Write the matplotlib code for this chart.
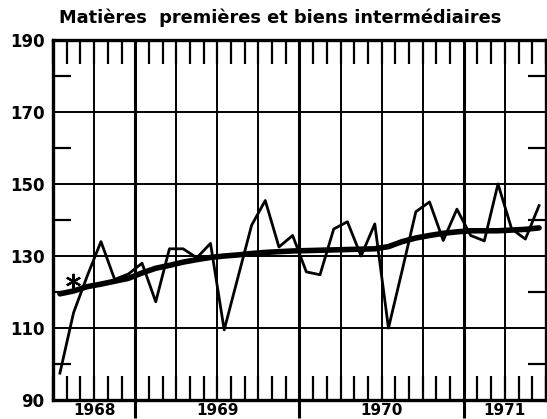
import matplotlib.pyplot as plt
import numpy as np

# monthly index, July 1968 .. June 1971
start_year = 1968.5
n_months = 36
series = [97.5, 114.3, 124.5, 134.0, 123.5, 125.0,
          128.0, 117.3, 132.0, 132.0, 129.5, 133.5,
          109.5, 124.0, 138.5, 145.4, 132.5, 135.7,
          125.6, 124.8, 137.5, 139.5, 130.0, 138.9,
          110.0, 126.0, 142.3, 145.0, 134.3, 143.0,
          135.7, 134.2, 150.0, 137.5, 134.7, 144.0]
trend = [119.5, 120.3, 121.5, 122.2, 123.0, 123.8,
         125.3, 126.6, 127.4, 128.3, 129.0, 129.6,
         130.0, 130.3, 130.7, 131.0, 131.2, 131.4,
         131.5, 131.6, 131.7, 131.8, 131.9, 132.0,
         132.6, 134.0, 135.0, 135.7, 136.3, 136.7,
         137.0, 137.0, 137.0, 137.2, 137.4, 137.8]
star_point = (1968.54 + 1 / 12, 123.2)
years = [1968, 1969, 1970, 1971]
year_labels = ['1968', '1969', '1970', '1971']
title = 'Matières  premières et biens intermédiaires'

x = start_year + (np.arange(n_months) + 0.5) / 12
xmin, xmax = start_year, start_year + n_months / 12

fig = plt.figure(figsize=(5.47, 4.19), dpi=100)
ax = fig.add_axes([0.097, 0.045, 0.901, 0.860])
ax.set_xlim(xmin, xmax)
ax.set_ylim(90, 190)

# grid: quarters thin, years thicker
for q in np.arange(xmin + 0.25, xmax, 0.25):
    lw = 2.2 if abs(q - round(q)) < 1e-6 else 1.4
    ax.axvline(q, color='black', lw=lw, zorder=1)
for v in range(110, 190, 20):
    ax.axhline(v, color='black', lw=1.4, zorder=1)

ax.plot(x, series, color='black', lw=2.0, zorder=3)
ax.plot(x, trend, color='black', lw=4.0, solid_capstyle='round', zorder=4)
ax.plot(*star_point, marker=(6, 2, 0), color='black', ms=11, mew=1.6, zorder=5)

# ticks
ax.set_yticks(range(90, 191, 20))
ax.set_yticks(range(100, 190, 20), minor=True)
ax.set_xticks([y for y in years if xmin < y < xmax])
ax.set_xticklabels([])
ax.set_xticks(np.arange(xmin, xmax + 1e-6, 1 / 12), minor=True)
ax.tick_params(axis='y', which='major', length=0, pad=6, labelsize=12)
ax.tick_params(axis='y', which='minor', direction='in', length=13, width=1.6,
               left=True, right=True)
ax.tick_params(axis='x', which='major', direction='out', length=13, width=2.2)
ax.tick_params(axis='x', which='minor', direction='in', length=17, width=1.6,
               top=True, bottom=True)
for lab in ax.get_yticklabels():
    lab.set_fontweight('bold')

for s in ax.spines.values():
    s.set_linewidth(2.4)

for y, lab in zip(years, year_labels):
    lo, hi = max(y, xmin), min(y + 1, xmax)
    ax.text((lo + hi) / 2, 89.3, lab, ha='center', va='top',
            fontsize=11, fontweight='bold', clip_on=False)

fig.text(0.512, 0.957, title, ha='center', va='center', fontsize=12.8,
         fontweight='bold')

fig.savefig('out.png', dpi=100)
